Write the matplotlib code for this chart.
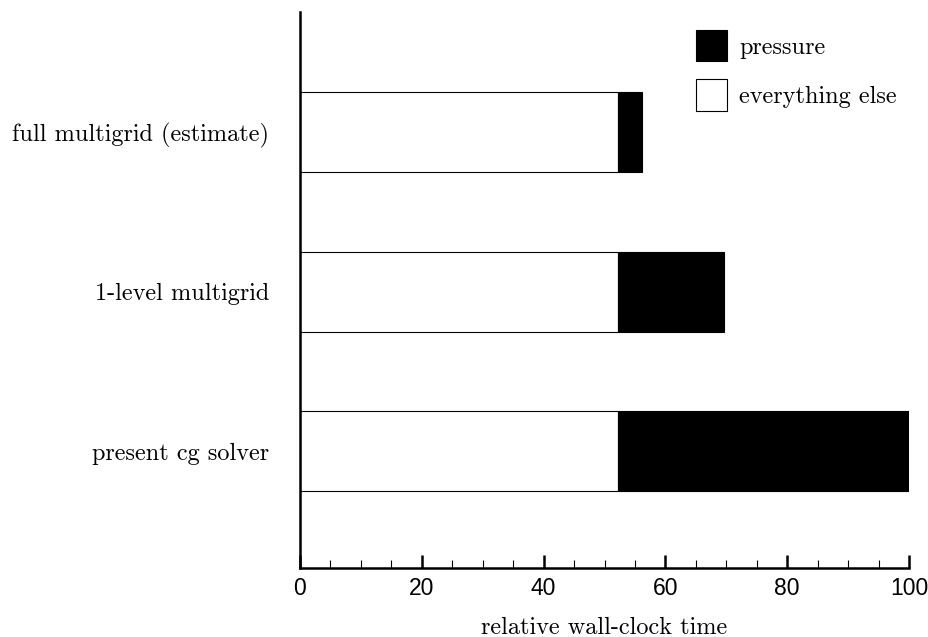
import matplotlib
matplotlib.use('Agg')
import matplotlib.pyplot as plt
from matplotlib.ticker import MultipleLocator

# data
solvers = ['present cg solver', '1-level multigrid', 'full multigrid (estimate)']
everything_else = [52.2, 52.2, 52.2]
pressure = [47.8, 17.4, 4.0]

serif = 'cmr10'
sans = 'Liberation Sans'
fs = 17.5

fig = plt.figure(figsize=(9.29, 6.37), dpi=100)
ax = fig.add_axes([300 / 929, 69 / 637, 609 / 929, 556 / 637])

ypos = range(len(solvers))
b_else = ax.barh(ypos, everything_else, height=0.5, color='white',
                 edgecolor='black', linewidth=0.8, label='everything else')
b_press = ax.barh(ypos, pressure, left=everything_else, height=0.5,
                  color='black', edgecolor='black', linewidth=0.8, label='pressure')

ax.set_xlim(0, 100)
ax.set_ylim(-0.733, 2.755)

ax.spines['top'].set_visible(False)
ax.spines['right'].set_visible(False)
ax.spines['left'].set_linewidth(1.8)
ax.spines['bottom'].set_linewidth(1.8)

ax.xaxis.set_major_locator(MultipleLocator(20))
ax.xaxis.set_minor_locator(MultipleLocator(5))
ax.tick_params(axis='x', which='major', direction='in', length=9.4, width=1.8,
               labelsize=16.5, pad=6.5)
ax.tick_params(axis='x', which='minor', direction='in', length=5.8, width=0.8)
for lbl in ax.get_xticklabels():
    lbl.set_fontfamily(sans)

ax.set_yticks(list(ypos))
ax.set_yticklabels(solvers, fontfamily=serif, fontsize=fs)
ax.tick_params(axis='y', length=0, pad=22)

ax.set_xlabel('relative wall-clock time', fontfamily=serif, fontsize=fs, labelpad=12)

ax.legend([b_press, b_else], ['pressure', 'everything else'],
          loc='upper left', bbox_to_anchor=(696 / 929, 1 - 30 / 637),
          bbox_transform=fig.transFigure, frameon=False, borderpad=0, borderaxespad=0,
          prop={'family': serif, 'size': fs}, handlelength=1.28, handleheight=1.6,
          handletextpad=0.5, labelspacing=0.75)

fig.savefig('out.png', dpi=100)
